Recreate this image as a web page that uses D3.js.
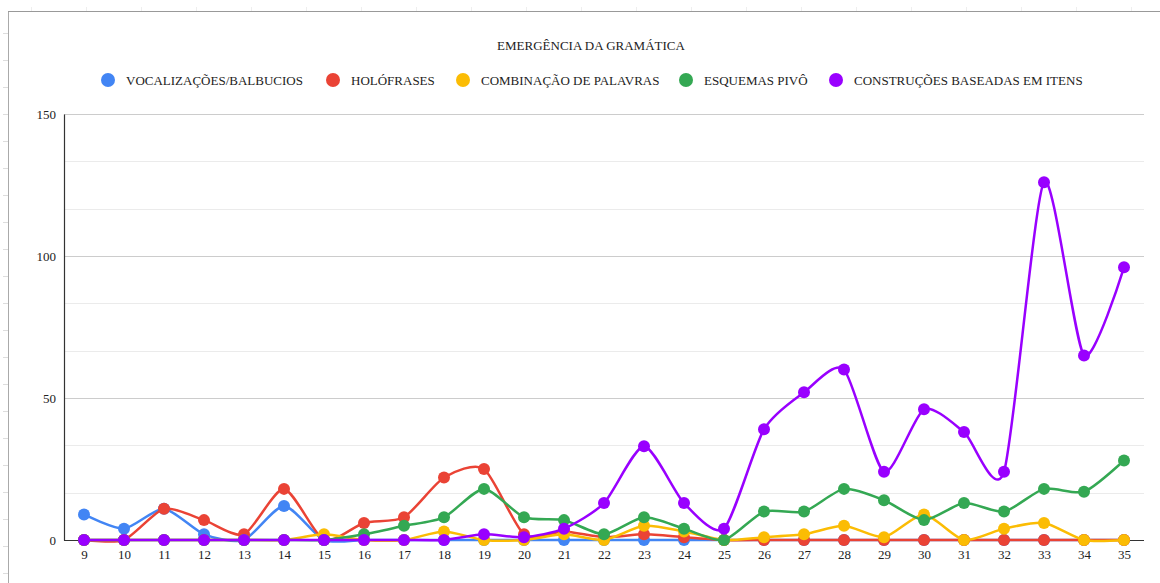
<!DOCTYPE html>
<html><head><meta charset="utf-8">
<script src="https://cdn.jsdelivr.net/npm/d3@7"></script>
<style>body{margin:0;background:#fff;}svg{display:block;}</style>
</head><body><svg id="c" width="1160" height="583"></svg>
<script>
const title = "EMERGÊNCIA DA GRAMÁTICA";
const categories = ["9","10","11","12","13","14","15","16","17","18","19","20","21","22","23","24","25","26","27","28","29","30","31","32","33","34","35"];
const seriesNames = ["VOCALIZAÇÕES/BALBUCIOS","HOLÓFRASES","COMBINAÇÃO DE PALAVRAS","ESQUEMAS PIVÔ","CONSTRUÇÕES BASEADAS EM ITENS"];
const colors = ["#4285f4","#ea4335","#fbbc04","#34a853","#9900ff"];
const vocalizacoes = [9,4,11,2,0,12,0,0,0,0,0,0,0,0,0,0,0,0,0,0,0,0,0,0,0,0,0];
const holofrases   = [0,0,11,7,2,18,0,6,8,22,25,2,3,1,2,1,0,0,0,0,0,0,0,0,0,0,0];
const combinacao   = [0,0,0,0,0,0,2,0,0,3,0,0,2,0,5,3,0,1,2,5,1,9,0,4,6,0,0];
const esquemas     = [0,0,0,0,0,0,0,2,5,8,18,8,7,2,8,4,0,10,10,18,14,7,13,10,18,17,28];
const construcoes  = [0,0,0,0,0,0,0,0,0,0,2,1,4,13,33,13,4,39,52,60,24,46,38,24,126,65,96];
const yTicks = [0,50,100,150];
const series = [vocalizacoes, holofrases, combinacao, esquemas, construcoes];

const svg = d3.select("#c");
const font = "'Liberation Serif', 'Times New Roman', serif";

// frame
const frame = svg.append("g");
frame.append("line").attr("x1",8.5).attr("x2",8.5).attr("y1",11).attr("y2",583).attr("stroke","#aaa").attr("stroke-width",1);
frame.append("line").attr("x1",8).attr("x2",1160).attr("y1",11.5).attr("y2",11.5).attr("stroke","#999").attr("stroke-width",1.2);
for (let yy = 33; yy < 583; yy += 27) frame.append("line").attr("x1",3).attr("x2",8).attr("y1",yy+0.5).attr("y2",yy+0.5).attr("stroke","#ddd");
for (let xx = 31; xx < 1160; xx += 55) frame.append("line").attr("x1",xx+0.5).attr("x2",xx+0.5).attr("y1",7).attr("y2",11).attr("stroke","#eee");

const pLeft = 64, pRight = 1144, pTop = 114, pBottom = 540;
const x = d3.scalePoint().domain(categories).range([pLeft, pRight]).padding(0.5);
const y = d3.scaleLinear().domain([0,150]).range([pBottom, pTop]);

// gridlines
const minor = d3.range(0, 151, 50/3).map(v => Math.round(v*100)/100);
svg.append("g").selectAll("line").data(minor).join("line")
  .attr("x1", pLeft).attr("x2", pRight)
  .attr("y1", d => Math.round(y(d))+0.5).attr("y2", d => Math.round(y(d))+0.5)
  .attr("stroke", d => (Math.abs(d % 50) < 0.01 && d > 0) ? "#cccccc" : "#ebebeb").attr("stroke-width",1);

// axes
const yAxis = svg.append("g").attr("transform", `translate(${pLeft},0)`)
  .call(d3.axisLeft(y).tickValues(yTicks).tickSize(0).tickPadding(8));
yAxis.select(".domain").attr("stroke","#333").attr("stroke-width",1.2);
yAxis.selectAll("text").attr("font-family", font).attr("font-size", 13).attr("fill","#222");

const xAxis = svg.append("g").attr("transform", `translate(0,${pBottom})`)
  .call(d3.axisBottom(x).tickSize(0).tickPadding(10));
xAxis.select(".domain").attr("stroke","#333").attr("stroke-width",1.2).attr("d", `M${pLeft},0.5H${pRight}`);
xAxis.selectAll("text").attr("font-family", font).attr("font-size", 13).attr("fill","#222");

// lines
const line = d3.line().x((d,i) => x(categories[i])).y(d => y(d)).curve(d3.curveCardinal.tension(0.3));
series.forEach((s, k) => {
  const g = svg.append("g");
  g.append("path").datum(s).attr("d", line).attr("fill","none").attr("stroke", colors[k]).attr("stroke-width", 2.5);
  g.selectAll("circle").data(s).join("circle")
    .attr("cx", (d,i) => x(categories[i])).attr("cy", d => y(d)).attr("r", 6).attr("fill", colors[k]);
});

// title
svg.append("text").attr("x", 591).attr("y", 50).attr("text-anchor","middle")
  .attr("font-family", font).attr("font-size", 13).attr("fill","#222").text(title);

// legend
const legX = [108, 333, 463, 686, 836];
const lg = svg.append("g");
seriesNames.forEach((n, k) => {
  lg.append("circle").attr("cx", legX[k]).attr("cy", 80).attr("r", 7).attr("fill", colors[k]);
  lg.append("text").attr("x", legX[k] + 18).attr("y", 84.5).attr("font-family", font).attr("font-size", 13)
    .attr("fill","#222").text(n);
});
</script></body></html>
